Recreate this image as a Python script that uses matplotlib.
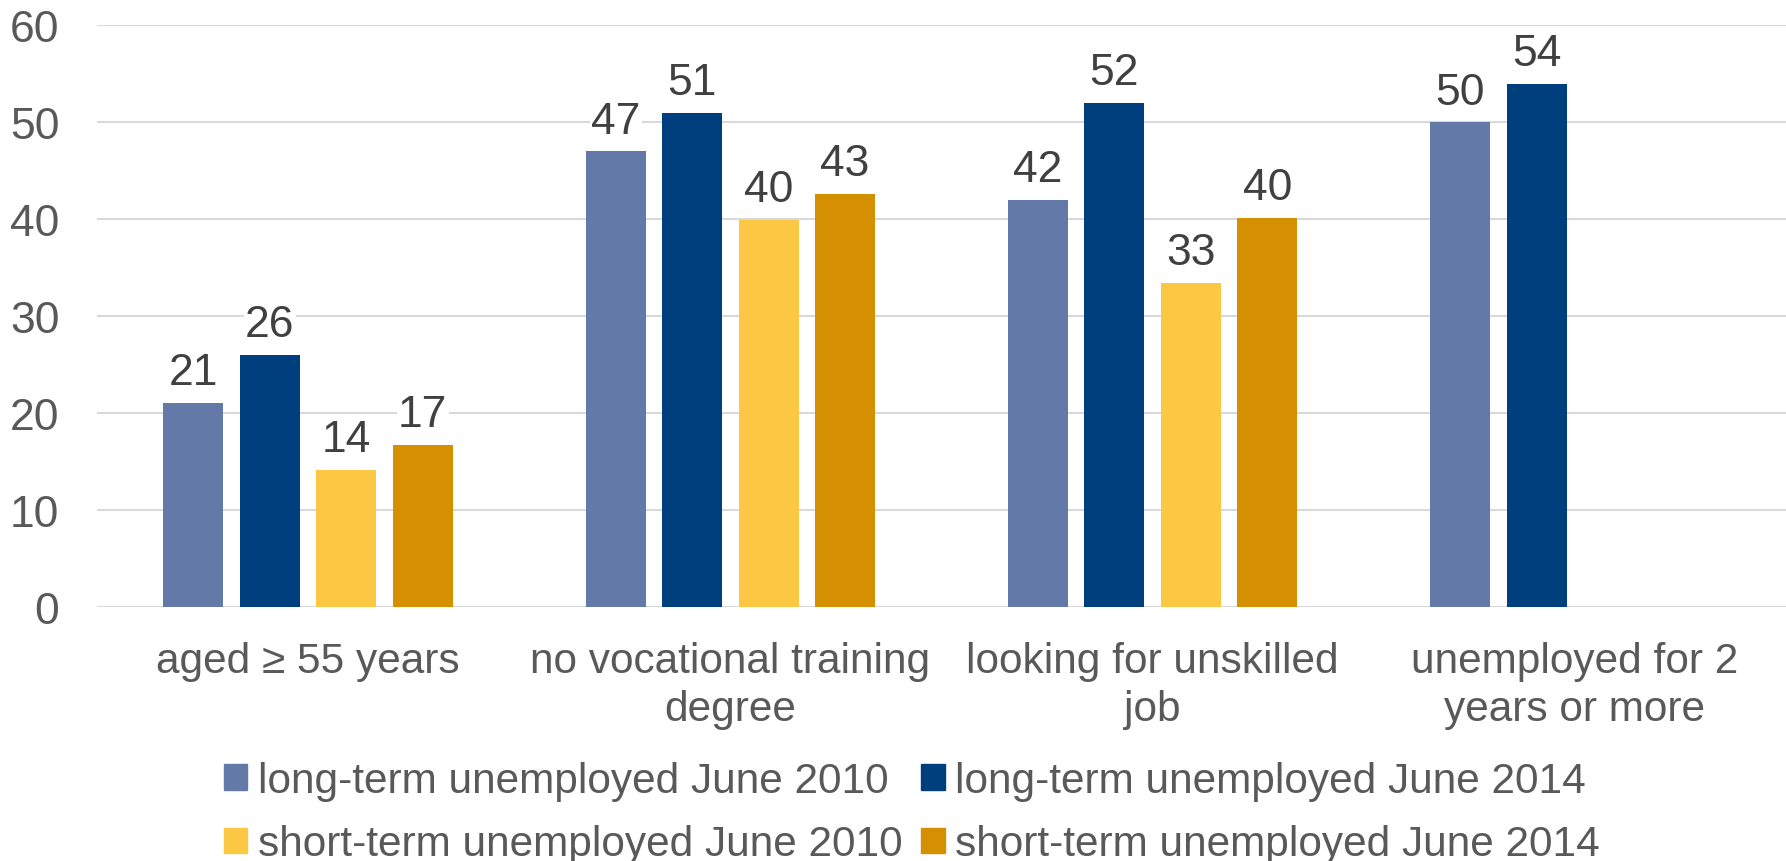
import matplotlib.pyplot as plt
from matplotlib.patches import Patch
import numpy as np

plt.rcParams['font.family'] = ['Liberation Sans', 'DejaVu Sans']

# Data
categories = ["aged ≥ 55 years", "no vocational training\ndegree",
              "looking for unskilled\njob", "unemployed for 2\nyears or more"]
series_names = ["long-term unemployed June 2010", "long-term unemployed June 2014",
                "short-term unemployed June 2010", "short-term unemployed June 2014"]
lt_2010 = [21, 47, 42, 50]
lt_2014 = [26, 51, 52, 54]
st_2010 = [14.1, 39.9, 33.4, None]
st_2014 = [16.7, 42.6, 40.1, None]
colors = ["#6379A8", "#003F7D", "#FCC844", "#D59000"]

series = [lt_2010, lt_2014, st_2010, st_2014]

fig = plt.figure(figsize=(17.86, 8.62), dpi=100)
ax = fig.add_axes([0.0543, 0.2952, 0.9457, 0.6741])

x = np.arange(len(categories))
pitch = 0.181
width = 0.142
offsets = (np.arange(4) - 1.5) * pitch

for vals, off, col in zip(series, offsets, colors):
    for xi, v in zip(x, vals):
        if v is None:
            continue
        ax.bar(xi + off, v, width=width, color=col, zorder=3)
        ax.annotate(f"{round(v)}", (xi + off, v), xytext=(0, 7),
                    textcoords="offset points", ha="center", va="bottom",
                    fontsize=32, color="#404040", zorder=4,
                    bbox=dict(facecolor="white", edgecolor="none", pad=1))

ax.set_xlim(-0.5, 3.5)
ax.set_ylim(0, 60)
ax.set_yticks(range(0, 61, 10))
ax.yaxis.grid(True, color="#D9D9D9", linewidth=1.5, zorder=0)
ax.set_axisbelow(True)
for s in ax.spines.values():
    s.set_visible(False)
ax.tick_params(axis="y", length=0, labelsize=32, colors="#595959", pad=27)
ax.tick_params(axis="x", length=0, labelsize=30.5, colors="#595959", pad=25)
ax.set_xticks(x)
ax.set_xticklabels(categories, linespacing=1.25)

handles = [Patch(color=colors[0]), Patch(color=colors[2]),
           Patch(color=colors[1]), Patch(color=colors[3])]
labels = [series_names[0], series_names[2], series_names[1], series_names[3]]
leg = fig.legend(handles, labels, ncol=2, loc="center", bbox_to_anchor=(0.5105, 0.056),
                 frameon=False, fontsize=30.5, handlelength=0.55, handleheight=0.55,
                 handletextpad=0.25, columnspacing=0.45, labelspacing=0.55,
                 borderaxespad=0, borderpad=0)
for t in leg.get_texts():
    t.set_color("#595959")

plt.savefig("out.png", dpi=100)
plt.close()
